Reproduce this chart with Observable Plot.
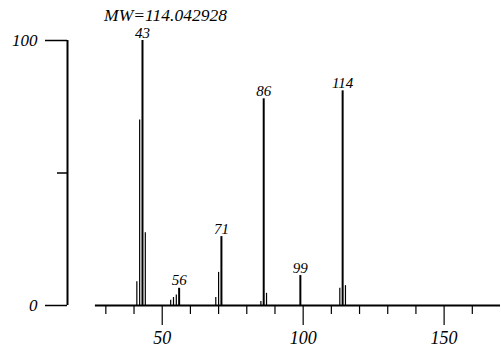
<!DOCTYPE html>
<html><head><meta charset="utf-8">
<script src="https://cdn.jsdelivr.net/npm/d3@7"></script>
<script src="https://cdn.jsdelivr.net/npm/@observablehq/plot@0.6"></script>
<style>
body{margin:0;background:#fff}
</style>
</head><body><div id="chart"></div>
<script>
const mz        = [41, 42, 43, 44, 53, 54, 55, 56, 69, 70, 71, 85, 86, 87, 99, 113, 114, 115];
const intensity = [9, 70, 100, 27.5, 2, 3, 4, 6.5, 3, 12.5, 26, 1.5, 78, 4.6, 11.3, 6.5, 81, 7.5];
const labeledMz = [43, 56, 71, 86, 99, 114];
const xMinorTicks = [30, 40, 60, 70, 80, 90, 110, 120, 130, 140, 160];
const xMajorTicks = [50, 100, 150];
const yLabeledTicks = [0, 100];
const yMidTicks = [50];
const titleText = "MW=114.042928";
const xDomain = [16.4, 170];
const xAxisRange = [26.3, 170];

const peaks = mz.map((m, i) => ({mz: m, intensity: intensity[i]}));
const labeled = peaks.filter(d => labeledMz.includes(d.mz));
const serif = "'Liberation Serif', 'Times New Roman', serif";

const chart = Plot.plot({
  width: 501,
  height: 353,
  marginLeft: 67,
  marginRight: 1,
  marginTop: 40,
  marginBottom: 48,
  style: {background: "#fff"},
  x: {domain: xDomain, label: null},
  y: {domain: [0, 100], label: null},
  marks: [
    Plot.ruleX([xDomain[0]], {y1: 0, y2: 100, strokeWidth: 2}),
    Plot.ruleY([0], {x1: xAxisRange[0], x2: xAxisRange[1], strokeWidth: 2}),
    Plot.axisY(yLabeledTicks, {tickSize: 22, tickPadding: 8, fontSize: 17, strokeWidth: 1.5, fontFamily: serif, fontStyle: "italic"}),
    Plot.axisY(yMidTicks, {tickSize: 10, tickFormat: () => "", strokeWidth: 1.5}),
    Plot.axisX(xMinorTicks, {tickSize: 9, tickFormat: () => "", strokeWidth: 1.2}),
    Plot.axisX(xMajorTicks, {tickSize: 20, tickPadding: 6, fontSize: 18, strokeWidth: 1.2, fontFamily: serif, fontStyle: "italic"}),
    Plot.ruleX(peaks, {x: "mz", y1: 0, y2: "intensity", strokeWidth: d => labeledMz.includes(d.mz) ? 2 : 1.2}),
    Plot.text(labeled, {x: "mz", y: "intensity", text: d => String(d.mz), dy: -3, lineAnchor: "bottom", fontSize: 15, fontFamily: serif, fontStyle: "italic"}),
    Plot.text([titleText], {frameAnchor: "top-left", dx: 98, dy: -20, textAnchor: "middle", lineAnchor: "bottom", fontSize: 17.5, fontFamily: serif, fontStyle: "italic"})
  ]
});
document.getElementById("chart").appendChild(chart);
</script>
</body></html>
